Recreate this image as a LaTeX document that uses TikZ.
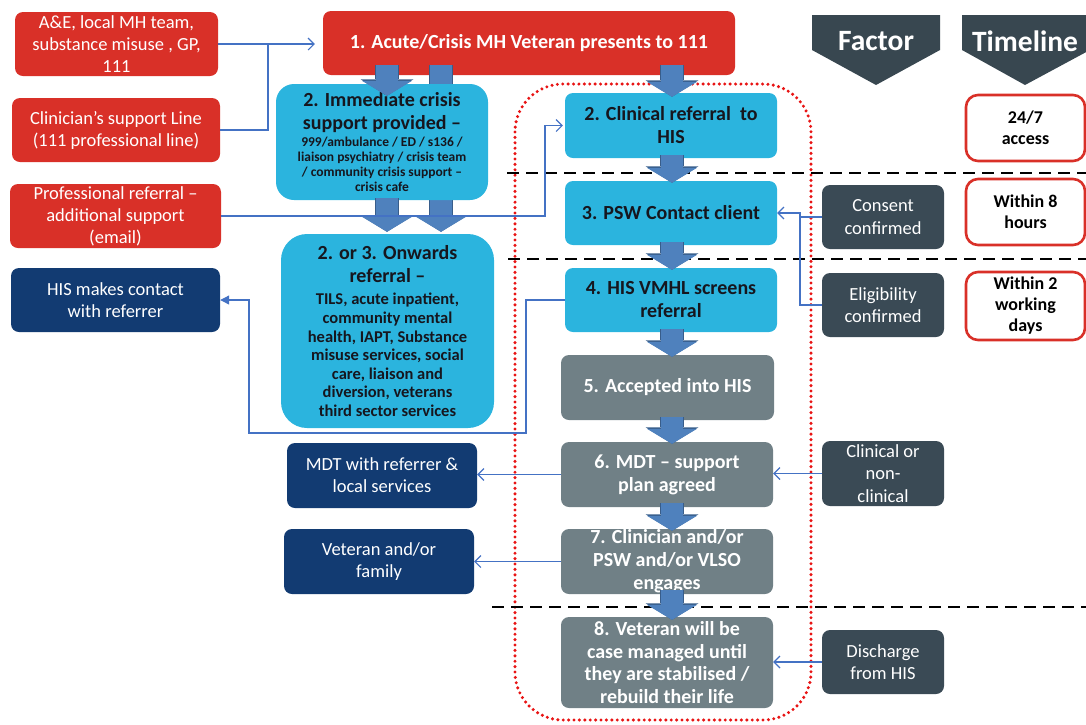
\documentclass[tikz,border=0pt]{standalone}
\usepackage{fontspec}
\setmainfont{Carlito}
\usetikzlibrary{arrows.meta,calc}

\definecolor{srcred}{RGB}{217,48,40}
\definecolor{hiscyan}{RGB}{43,180,222}
\definecolor{hisgray}{RGB}{112,128,134}
\definecolor{navy}{RGB}{18,59,114}
\definecolor{slate}{RGB}{58,74,85}
\definecolor{hdrgray}{RGB}{56,71,80}
\definecolor{blkfill}{RGB}{79,129,189}
\definecolor{blkline}{RGB}{56,93,138}
\definecolor{linkblue}{RGB}{68,114,196}
\definecolor{inktext}{RGB}{22,22,30}
\definecolor{dotred}{RGB}{232,20,20}

\tikzset{
  box/.style={rectangle, rounded corners=8pt, align=center, inner sep=0pt, minimum height=64pt},
  srcbox/.style={box, fill=srcred, text=white, font=\fontsize{18.5}{22}\selectfont},
  navybox/.style={box, fill=navy, text=white, font=\fontsize{18.5}{22}\selectfont},
  cyanbox/.style={box, fill=hiscyan, text=inktext, font=\fontsize{20}{23}\selectfont\bfseries},
  graybox/.style={box, fill=hisgray, text=white, font=\fontsize{20}{23}\selectfont\bfseries},
  factorbox/.style={box, fill=slate, text=white, minimum width=122pt, font=\fontsize{18.5}{22.5}\selectfont},
  timebox/.style={box, fill=white, draw=srcred, line width=2.6pt, rounded corners=12pt,
    minimum width=119pt, text=black, font=\fontsize{18}{21}\selectfont\bfseries},
  hdrtext/.style={text=white, font=\fontsize{29.5}{32}\selectfont\bfseries},
  blk/.style={draw=blkfill, line width=22pt, shorten <=-3pt, shorten >=-2pt,
    -{Triangle[width=50pt,length=15pt,line width=0pt]},
    preaction={draw=blkline, line width=24pt, -{Triangle[width=53pt,length=16.5pt,line width=0pt]}}},
  link/.style={draw=linkblue, line width=1.1pt, -{Straight Barb[length=6pt,width=12pt]}},
  sep/.style={draw=black, line width=2.3pt, dash pattern=on 12pt off 7pt},
  hisframe/.style={draw=dotred, line width=3.4pt, line cap=round, dash pattern=on 0pt off 5.4pt, rounded corners=48pt}
}

\begin{document}
\begin{tikzpicture}[x=1pt,y=-1pt,>=Stealth]
\useasboundingbox (0,0) rectangle (1086,724);

% HIS pathway frame
\draw[hisframe] (515,84) rectangle (811,720);

% headers
\fill[hdrgray] (812,15) -- (940,15) -- (940,50) -- (876,85) -- (812,50) -- cycle;
\node[hdrtext] (hfactor) at (876,41) {Factor};
\fill[hdrgray] (962,15) -- (1090,15) -- (1090,50) -- (1025,85) -- (962,50) -- cycle;
\node[hdrtext] (htime) at (1025,41) {Timeline};

% referral sources
\node[srcbox, minimum width=203pt] (src1) at (116.5,44) {A\&E, local MH team,\\substance misuse , GP,\\111};
\node[srcbox, minimum width=208pt] (src2) at (116,130) {Clinician’s support Line\\(111 professional line)};
\node[srcbox, minimum width=211pt] (src3) at (115.5,216) {Professional referral –\\additional support\\(email)};
\node[srcbox, minimum width=412pt, font=\fontsize{20}{23}\selectfont\bfseries] (n1) at (529,43) {1. Acute/Crisis MH Veteran presents to 111};

\coordinate (cola) at (387,0);
\coordinate (colb) at (441,0);
\coordinate (colc) at (672,0);

% onwards referral, its arrow runs under the crisis box
\node[cyanbox, align=flush center, rounded corners=26pt, minimum width=213pt, minimum height=194pt, text width=205pt] (n23) at (387.5,331)
  {2. or 3. Onwards\\referral –\par\vspace{4pt}
   \fontsize{16.5}{18.6}\selectfont TILS, acute inpatient,\\community mental\\health, IAPT, Substance\\misuse services, social\\care, liaison and\\diversion, veterans\\third sector services\par};
\draw[blk, shorten <=-10pt, shorten >=2pt] (n1.south -| colb) -- (n23.north -| colb);

\node[cyanbox, align=flush center, rounded corners=18pt, minimum width=212pt, minimum height=116pt, text width=205pt] (n2a) at (382,142)
  {2. Immediate crisis\\support provided –\par\vspace{2pt}
   \fontsize{13.5}{15}\selectfont 999/ambulance / ED / s136 /\\liaison psychiatry / crisis team\\/ community crisis support –\\crisis cafe\par};
\draw[blk, shorten <=-10pt, shorten >=-12pt] (n1.south -| cola) -- (n2a.north -| cola);
\draw[blk, shorten <=-2pt, shorten >=2pt] (n2a.south -| cola) -- (n23.north -| cola);

% HIS pathway
\node[cyanbox, minimum width=212pt, minimum height=65pt] (c2) at (671,125.5) {2. Clinical referral\ \ to\\HIS};
\node[cyanbox, minimum width=212pt] (c3) at (671,213) {3. PSW Contact client};
\node[cyanbox, minimum width=212pt] (c4) at (671,300) {4. HIS VMHL screens\\referral};
\node[graybox, minimum width=213pt, minimum height=65pt] (c5) at (667.5,387.5) {5. Accepted into HIS};
\node[graybox, minimum width=212pt, minimum height=65pt] (c6) at (667,474.5) {6. MDT – support\\plan agreed};
\node[graybox, minimum width=212pt, minimum height=65pt] (c7) at (667,561.5) {7. Clinician and/or\\PSW and/or VLSO\\engages};
\node[graybox, minimum width=212pt, minimum height=91pt, font=\fontsize{20}{22.5}\selectfont\bfseries] (c8) at (667,662.5)
  {8. Veteran will be\\case managed until\\they are stabilised /\\rebuild their life};

% outcomes
\node[navybox, minimum width=209pt] (his) at (115.5,300) {HIS makes contact\\with referrer};
\node[navybox, minimum width=190pt, minimum height=65pt] (mdt) at (382,475.5) {MDT with referrer \&\\local services};
\node[navybox, minimum width=190pt, minimum height=65pt] (vet) at (379,561.5) {Veteran and/or\\family};

% factors
\node[factorbox] (f1) at (883,217) {Consent\\confirmed};
\node[factorbox] (f2) at (883,305) {Eligibility\\confirmed};
\node[factorbox, minimum height=65pt] (f3) at (883,473.5) {Clinical or\\non-\\clinical};
\node[factorbox] (f4) at (883,662) {Discharge\\from HIS};

% timeline
\node[timebox, minimum height=66pt] (t1) at (1025.5,128) {24/7\\access};
\node[timebox, minimum height=66pt] (t2) at (1025.5,212) {Within 8\\hours};
\node[timebox, minimum height=68pt] (t3) at (1025.5,306) {Within 2\\working\\days};

% stage separators
\draw[sep] (507,173) -- (1086,173);
\draw[sep] (508,259) -- (1086,259);
\draw[sep] (492,607) -- (1086,607);

% block arrows
\draw[blk, shorten <=-10pt, shorten >=-4pt] (n1.south -| colc) -- (c2.north -| colc);
\draw[blk] (c2.south -| colc) -- (c3.north -| colc);
\draw[blk] (c3.south -| colc) -- (c4.north -| colc);
\draw[blk] (c4.south -| colc) -- (c5.north -| colc);
\draw[blk] (c5.south -| colc) -- (c6.north -| colc);
\draw[blk, shorten <=-4pt] (c6.south -| colc) -- (c7.north -| colc);
\draw[blk, shorten <=-4pt, shorten >=-3pt] (c7.south -| colc) -- (c8.north -| colc);

% thin links
\coordinate (ja) at (268,0);
\coordinate (jb) at (545,0);
\coordinate (jc) at (526,433);
\coordinate (jd) at (249,433);
\coordinate (je) at (800,0);
\draw[link, shorten >=8pt] (src1.east) -- (src1.east -| n1.west);
\draw[link, -] (src2.east) -| (ja |- src1.east);
\draw[link, shorten >=2pt] (src3.east) -| (jb |- c2.west) -- (c2.west);
\draw[link, -{Triangle[length=9pt,width=9pt]}] (c4.west) -| (jc) -- (jd) |- (his.east);
\draw[link] (c6.west) -- (c6.west -| mdt.east);
\draw[link] (c7.west) -- (c7.west -| vet.east);
\draw[link, -] (f1.west) -- (f1.west -| je);
\draw[link] (f2.west) -| (je |- c3.east) -- (c3.east);
\draw[link] (f3.west) -- (f3.west -| c6.east);
\draw[link] (f4.west) -- (f4.west -| c8.east);
\end{tikzpicture}
\end{document}
